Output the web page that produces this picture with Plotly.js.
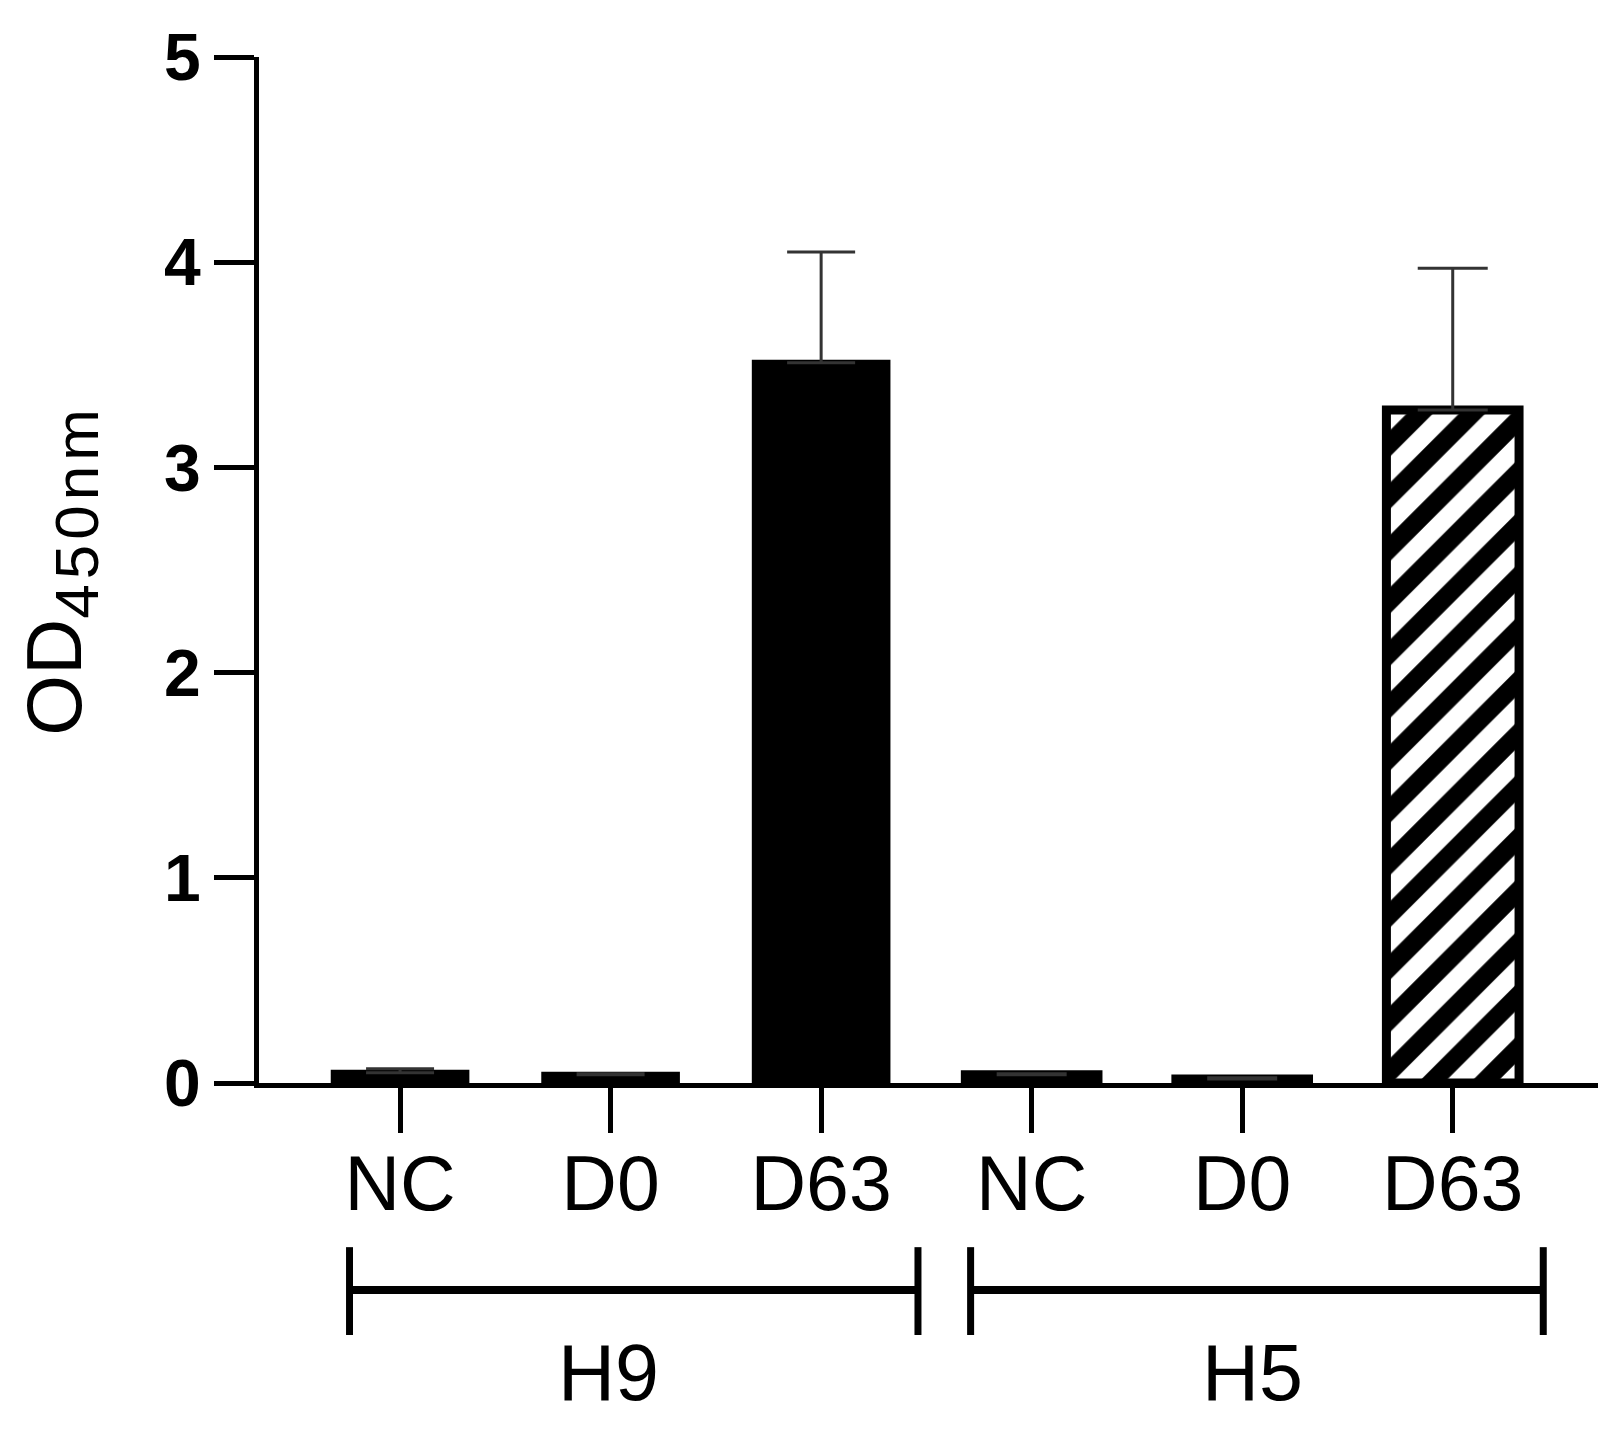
<!DOCTYPE html>
<html>
<head>
<meta charset="utf-8">
<script src="https://cdn.plot.ly/plotly-3.0.1.min.js"></script>
<style>html,body{margin:0;padding:0;background:#fff;}#chart{width:1616px;height:1438px;}</style>
</head>
<body>
<div id="chart"></div>
<script>
// Data
const categories = ["NC", "D0", "D63", "NC", "D0", "D63"];
const groupNames = ["H9", "H5"];
const h9Values = [0.05, 0.04, 3.51];
const h9Errors = [0.02, 0.005, 0.54];
const h5Values = [0.04, 0.02, 3.28];
const h5Errors = [0.005, 0.005, 0.69];
const yTicks = [0, 1, 2, 3, 4, 5];

const FONT = "Liberation Sans, Arial, Helvetica, sans-serif";
const xIdx = categories.map((c, i) => i);

const h9Trace = {
  type: "bar",
  x: [0, 1, 2],
  y: h9Values,
  width: 0.63,
  marker: { color: "#000", line: { color: "#000", width: 6 } },
  error_y: { type: "data", symmetric: false, array: h9Errors, arrayminus: [0, 0, 0],
             color: "#333", thickness: 3, width: 34 },
  showlegend: false,
  hoverinfo: "skip"
};
const h5Trace = {
  type: "bar",
  x: [3, 4, 5],
  y: h5Values,
  width: 0.63,
  marker: { color: "#fff", line: { color: "#000", width: 9 },
            pattern: { shape: "/", fgcolor: "#000", bgcolor: "#fff", size: 37, solidity: 0.5 } },
  error_y: { type: "data", symmetric: false, array: h5Errors, arrayminus: [0, 0, 0],
             color: "#333", thickness: 3, width: 35 },
  showlegend: false,
  hoverinfo: "skip"
};

// bracket geometry (category index units) and label positions
const brackets = [
  { name: groupNames[0], x0: -0.24, x1: 2.46, labelX: 0.99 },
  { name: groupNames[1], x0: 2.71, x1: 5.43, labelX: 4.05 }
];
const shapes = [];
const annotations = [];
brackets.forEach(b => {
  shapes.push({ type: "line", xref: "x", yref: "paper", x0: b.x0, x1: b.x1, y0: -0.2018, y1: -0.2018, line: { color: "#000", width: 8 } });
  shapes.push({ type: "line", xref: "x", yref: "paper", x0: b.x0, x1: b.x0, y0: -0.160, y1: -0.2456, line: { color: "#000", width: 7 } });
  shapes.push({ type: "line", xref: "x", yref: "paper", x0: b.x1, x1: b.x1, y0: -0.160, y1: -0.2456, line: { color: "#000", width: 7 } });
  annotations.push({ xref: "x", yref: "paper", x: b.labelX, y: -0.282, text: b.name,
                     showarrow: false, font: { family: FONT, size: 79, color: "#000" }, yanchor: "middle" });
});

const layout = {
  width: 1616, height: 1438,
  margin: { l: 259, r: 18, t: 57, b: 355 },
  paper_bgcolor: "#fff", plot_bgcolor: "#fff",
  xaxis: {
    range: [-0.67, 5.69],
    tickmode: "array", tickvals: xIdx, ticktext: categories,
    ticks: "outside", ticklen: 45, tickwidth: 5, tickcolor: "#000",
    ticklabelstandoff: -15,
    showline: true, linewidth: 5, linecolor: "#000",
    showgrid: false, zeroline: false,
    tickfont: { family: FONT, size: 77, color: "#000" }
  },
  yaxis: {
    range: [0, 5],
    tickmode: "array", tickvals: yTicks, ticktext: yTicks.map(v => "<b>" + v + "</b>"),
    ticks: "outside", ticklen: 40, tickwidth: 5, tickcolor: "#000",
    showline: true, linewidth: 5, linecolor: "#000",
    showgrid: false, zeroline: false,
    tickfont: { family: FONT, size: 66, color: "#000" },
    title: { text: "OD<sub><span style=\"font-size:62px;letter-spacing:5px\">450nm</span></sub>",
             font: { family: FONT, size: 78, color: "#000" }, standoff: 58 }
  },
  shapes: shapes,
  annotations: annotations
};

Plotly.newPlot("chart", [h9Trace, h5Trace], layout, { displayModeBar: false });
</script>
</body>
</html>
